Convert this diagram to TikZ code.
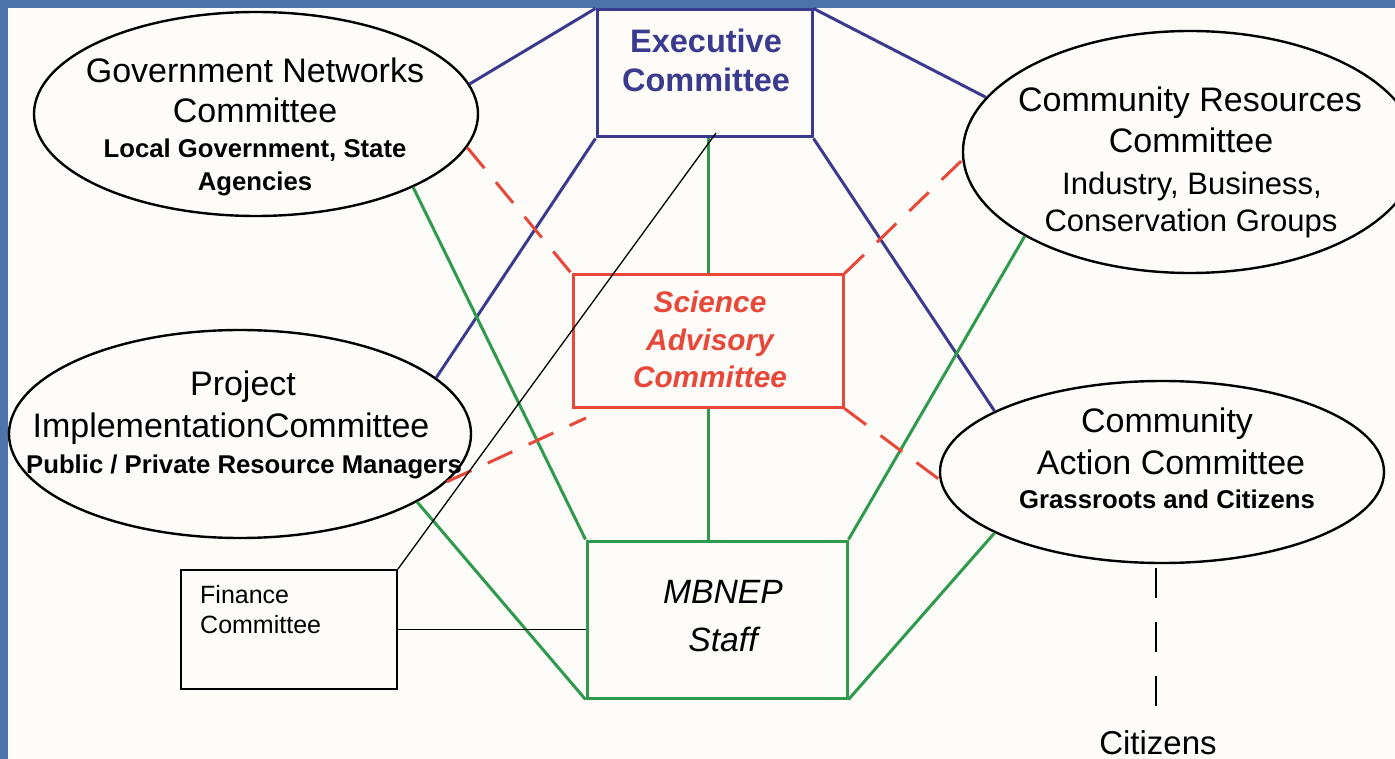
\documentclass[tikz,border=0pt]{standalone}
\usepackage{fontspec}
\setmainfont{Liberation Sans}
\usetikzlibrary{shapes.geometric,calc}
\definecolor{bgc}{HTML}{FDFCF8}
\definecolor{framec}{HTML}{4D74AA}
\definecolor{navy}{HTML}{3A3A8E}
\definecolor{grn}{HTML}{2F9A4B}
\definecolor{redc}{HTML}{E8483A}
\begin{document}
\begin{tikzpicture}[x=1pt,y=-1pt,
  ell/.style={ellipse,draw=black,line width=2.4pt,inner sep=0pt},
  bluel/.style={draw=navy,line width=3pt},
  grnl/.style={draw=grn,line width=3pt},
  redd/.style={draw=redc,line width=3pt,dash pattern=on 27pt off 18pt},
  txt/.style={anchor=base,inner sep=0pt},
  reg/.style={txt,font=\fontsize{34}{40}\selectfont},
  regs/.style={txt,font=\fontsize{31}{36}\selectfont},
  bld/.style={txt,font=\fontsize{25.7}{30}\selectfont\bfseries},
  exectxt/.style={txt,text=navy,font=\fontsize{32.5}{38}\selectfont\bfseries},
  scitxt/.style={txt,text=redc,font=\fontsize{29.8}{36}\selectfont\bfseries\itshape},
  stafftxt/.style={txt,font=\fontsize{33.7}{40}\selectfont\itshape},
  fintxt/.style={anchor=base west,inner sep=0pt,font=\fontsize{25}{30}\selectfont},
  boxn/.style={rectangle,inner sep=0pt}
]
\useasboundingbox (0,0) rectangle (1395,759);
\clip (0,0) rectangle (1395,759);
\fill[bgc] (0,0) rectangle (1395,759);
\fill[framec] (0,0) rectangle (8,759);
\fill[framec] (0,0) rectangle (1395,8);

% boxes
\node[boxn,draw=navy,line width=3pt,minimum width=215pt,minimum height=127pt] (exec) at (704.5,73.5) {};
\node[boxn,draw=redc,line width=3pt,minimum width=270pt,minimum height=132pt] (sci) at (708,341) {};
\node[boxn,draw=grn,line width=3pt,minimum width=260pt,minimum height=157pt] (staff) at (717,619.5) {};
\node[boxn,draw=black,line width=2pt,minimum width=216pt,minimum height=119pt] (fin) at (289,629.5) {};

% ellipses
\node[ell,minimum width=444pt,minimum height=204pt] (gov) at (256,114) {};
\node[ell,minimum width=462pt,minimum height=208pt] (proj) at (240,434) {};
\node[ell,minimum width=454pt,minimum height=242pt] (cres) at (1190,152) {};
\node[ell,minimum width=444pt,minimum height=182pt] (cact) at (1162,472) {};

% blue connectors
\draw[bluel] (gov.8.8) -- (exec.north west);
\draw[bluel] (exec.north east) -- (cres.165.9);
\draw[bluel] (exec.south west) -- (proj.16.2);
\draw[bluel] (exec.south east) -- (cact.160.8);

% green connectors
\draw[grnl] (sci.north |- exec.south) -- (sci.north);
\draw[grnl] (sci.south) -- (sci.south |- staff.north);
\draw[grnl] (gov.-25.3) -- (staff.north west);
\draw[grnl] (cres.207.6) -- (staff.north east);
\draw[grnl] (proj.-21.3) -- (staff.south west);
\draw[grnl] (cact.200.7) -- (staff.south east);

% red dashed connectors
\coordinate (r3end) at (586,418);
\draw[redd] (gov.-9.2) -- (sci.north west);
\draw[redd] (sci.north east) -- (cres.182.8);
\draw[redd] (proj.-13.1) -- (r3end);
\draw[redd] (sci.south east) -- (cact.182.8);

% finance connectors
\coordinate (exin) at (716,133);
\draw[black,line width=1.3pt] (fin.north east) -- (exin);
\draw[black,line width=1.6pt] (fin.east) -- (fin.east -| staff.west);

% citizens dashed
\coordinate (ctop) at (1156,568);
\coordinate (cbot) at (1156,706);
\draw[black,line width=2pt,dash pattern=on 30pt off 24pt] (ctop) -- (cbot);

% texts
\node[exectxt] (ex1) at (706,53) {Executive};
\node[exectxt] (ex2) at (706,92) {Committee};

\node[scitxt] (sc1) at (710,313) {Science};
\node[scitxt] (sc2) at (710,350) {Advisory};
\node[scitxt] (sc3) at (710,387) {Committee};

\node[stafftxt] (st1) at (723,603) {MBNEP};
\node[stafftxt] (st2) at (723,651) {Staff};

\node[fintxt] (fi1) at (200,603) {Finance};
\node[fintxt] (fi2) at (200,633) {Committee};

\node[reg] (gv1) at (255,83) {Government Networks};
\node[reg] (gv2) at (255,123) {Committee};
\node[bld] (gv3) at (255,158) {Local Government, State};
\node[bld] (gv4) at (255,191) {Agencies};

\node[reg] (pj1) at (243,395) {Project};
\node[reg] (pj2) at (231,437) {ImplementationCommittee};
\node[bld] (pj3) at (244,473) {Public / Private Resource Managers};

\node[reg] (cr1) at (1190,112) {Community Resources};
\node[reg] (cr2) at (1191,153) {Committee};
\node[regs] (cr3) at (1192,195) {Industry, Business,};
\node[regs] (cr4) at (1191,232) {Conservation Groups};

\node[reg] (ca1) at (1167,432) {Community};
\node[reg] (ca2) at (1171,474) {Action Committee};
\node[bld] (ca3) at (1167,508) {Grassroots and Citizens};

\node[txt,font=\fontsize{33}{40}\selectfont] (cit) at (1158,754) {Citizens};
\end{tikzpicture}
\end{document}
